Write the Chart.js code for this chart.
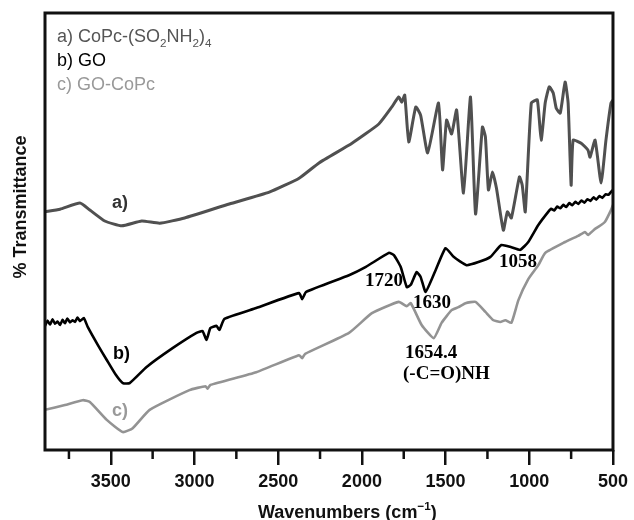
<!DOCTYPE html>
<html>
<head>
<meta charset="utf-8">
<title>FTIR spectra</title>
<script src="https://cdn.jsdelivr.net/npm/chart.js@4/dist/chart.umd.min.js"></script>
<style>
  html, body { margin: 0; padding: 0; background: #fff; }
  #wrap { width: 634px; height: 520px; position: relative; }
</style>
</head>
<body>
<div id="wrap"><canvas id="ftir"></canvas></div>
<script>
// wavenumber axis (cm-1), drawn high -> low
const xMajorTicks = [3500, 3000, 2500, 2000, 1500, 1000, 500];
const xMinorTicks = [3750, 3250, 2750, 2250, 1750, 1250, 750];

// a) CoPc-(SO2NH2)4
const coPcWave = [3893, 3803, 3684, 3625, 3536, 3434, 3315, 3208, 3059, 2792, 2553, 2375, 2256, 2059,
  1899, 1821, 1780, 1762, 1744, 1720, 1678, 1649, 1607, 1542, 1518, 1494, 1464, 1434, 1393, 1351,
  1321, 1280, 1262, 1244, 1220, 1196, 1155, 1131, 1107, 1059, 1042, 1024, 988, 952, 929, 905,
  881, 857, 839, 815, 786, 768, 750, 738, 690, 649, 637, 607, 571, 542, 512, 500];
const coPcT = [54.5, 55.1, 56.5, 54.9, 52.4, 51.3, 52.4, 51.9, 53.1, 56.3, 59.0, 62.2, 65.7, 70.2,
  74.6, 78.5, 80.8, 79.6, 81.2, 70.5, 78.5, 76.6, 68.0, 79.4, 64.1, 75.5, 72.3, 77.8, 58.8, 80.8,
  54.0, 73.9, 71.6, 59.5, 63.6, 59.9, 50.3, 54.5, 53.1, 62.5, 60.6, 54.5, 79.4, 80.1, 70.9, 79.4,
  83.1, 81.7, 78.2, 77.1, 84.2, 79.4, 60.6, 70.9, 70.2, 68.6, 67.0, 70.9, 61.1, 70.9, 79.4, 80.1];

// b) GO
const goWave = [3893, 3878, 3863, 3848, 3833, 3818, 3803, 3788, 3774, 3759, 3744, 3729, 3714, 3699,
  3684, 3661, 3637, 3577, 3524, 3470, 3428,
  3387, 3286, 3131, 2988, 2952, 2928, 2905, 2869, 2851, 2821, 2631, 2375, 2357, 2333, 2077, 1976,
  1839, 1809, 1768, 1732, 1708, 1673, 1649, 1619, 1559, 1500, 1452, 1375, 1304, 1232, 1167, 1107,
  1054, 1006, 946, 887, 869, 851, 833, 815, 797, 779, 761, 743, 725, 707, 689, 671, 653, 635, 617,
  599, 581, 563, 545, 527, 509, 500];
const goT = [28.4, 29.6, 28.7, 29.9, 28.9, 29.4, 28.6, 29.8, 29.0, 30.1, 29.2, 29.7, 29.3, 30.3,
  29.5, 30.2, 28.1, 24.0, 20.6, 17.2, 15.3,
  15.3, 19.0, 23.3, 26.8, 27.2, 25.2, 27.9, 28.4, 27.5, 30.0, 32.5, 35.9, 34.5, 36.2, 40.0, 41.9,
  45.1, 44.6, 41.9, 37.3, 37.8, 40.7, 39.6, 36.2, 41.2, 46.2, 44.2, 42.3, 43.0, 44.2, 46.9, 46.4,
  45.8, 47.6, 51.5, 54.5, 55.2, 54.8, 55.7, 55.3, 56.1, 55.6, 56.5, 56.0, 56.8, 56.3, 57.1, 56.6,
  57.4, 57.0, 57.8, 57.3, 58.1, 57.7, 58.5, 58.4, 59.2, 59.5];

// c) GO-CoPc
const goCoPcWave = [3893, 3774, 3667, 3625, 3524, 3428, 3369, 3268, 3030, 2934, 2922, 2905, 2631,
  2375, 2357, 2339, 2077, 1940, 1780, 1732, 1708, 1643, 1571, 1524, 1464, 1423, 1381, 1321, 1262,
  1214, 1173, 1143, 1107, 1065, 1006, 946, 905, 786, 708, 667, 649, 607, 571, 548, 512, 500];
const goCoPcT = [9.2, 10.3, 11.4, 11.0, 6.9, 4.1, 5.0, 9.2, 13.7, 14.6, 14.0, 14.9, 17.8,
  21.7, 21.0, 22.0, 26.8, 31.3, 33.9, 32.9, 33.6, 28.6, 25.6, 29.1, 32.0, 32.7, 33.6, 33.9, 31.6,
  29.7, 29.3, 29.7, 29.1, 34.3, 39.1, 42.3, 45.1, 47.6, 49.0, 49.9, 49.2, 50.6, 51.5, 52.2, 54.9, 56.1];

const toPoints = (xs, ys) => xs.map((x, i) => ({ x, y: ys[i] }));

// text run helper: pieces may be subscripted or superscripted
function drawRuns(ctx, runs, x, y, size, weight, family, color) {
  ctx.fillStyle = color;
  ctx.textBaseline = "alphabetic";
  ctx.textAlign = "left";
  let cx = x;
  runs.forEach((run) => {
    const s = run.sub || run.sup ? size * 0.65 : size;
    const dy = run.sub ? size * 0.28 : run.sup ? -size * 0.42 : 0;
    ctx.font = `${weight} ${s}px ${family}`;
    ctx.fillText(run.t, cx, y + dy);
    cx += ctx.measureText(run.t).width;
  });
  return cx - x;
}

const sans = "'Liberation Sans', Arial, sans-serif";
const serif = "'Liberation Serif', 'Times New Roman', serif";

const spectrumDecor = {
  id: "spectrumDecor",
  afterDraw(chart) {
    const { ctx, chartArea: area, scales } = chart;
    ctx.save();

    // frame
    ctx.strokeStyle = "#111";
    ctx.lineWidth = 3;
    ctx.strokeRect(area.left, area.top, area.right - area.left, area.bottom - area.top);

    // short minor ticks between labelled ones
    ctx.lineWidth = 2.5;
    xMinorTicks.forEach((v) => {
      const px = scales.x.getPixelForValue(v);
      ctx.beginPath();
      ctx.moveTo(px, area.bottom);
      ctx.lineTo(px, area.bottom + 9);
      ctx.stroke();
    });

    // series key, top left
    drawRuns(ctx, [{ t: "a) CoPc-(SO" }, { t: "2", sub: true }, { t: "NH" }, { t: "2", sub: true },
      { t: ")" }, { t: "4", sub: true }], 57, 42, 18, "normal", sans, "#555");
    drawRuns(ctx, [{ t: "b) GO" }], 57, 66, 18, "normal", sans, "#000");
    drawRuns(ctx, [{ t: "c) GO-CoPc" }], 57, 90, 18, "normal", sans, "#999");

    // curve tags
    drawRuns(ctx, [{ t: "a)" }], 112, 208, 18, "bold", sans, "#333");
    drawRuns(ctx, [{ t: "b)" }], 113, 359, 18, "bold", sans, "#000");
    drawRuns(ctx, [{ t: "c)" }], 112, 416, 18, "bold", sans, "#999");

    // band assignments
    drawRuns(ctx, [{ t: "1720" }], 365, 286, 19, "bold", serif, "#000");
    drawRuns(ctx, [{ t: "1630" }], 413, 308, 19, "bold", serif, "#000");
    drawRuns(ctx, [{ t: "1058" }], 499, 267, 19, "bold", serif, "#000");
    drawRuns(ctx, [{ t: "1654.4" }], 405, 358, 19, "bold", serif, "#000");
    drawRuns(ctx, [{ t: "(-C=O)NH" }], 403, 379, 19, "bold", serif, "#000");

    // axis titles
    drawRuns(ctx, [{ t: "Wavenumbers (cm" }, { t: "\u22121", sup: true }, { t: ")" }],
      258, 518, 18, "bold", sans, "#111");
    ctx.translate(26, 207);
    ctx.rotate(-Math.PI / 2);
    ctx.font = `bold 18px ${sans}`;
    const w = ctx.measureText("% Transmittance").width;
    drawRuns(ctx, [{ t: "% Transmittance" }], -w / 2, 0, 18, "bold", sans, "#111");

    ctx.restore();
  },
};

const lineStyle = { pointRadius: 0, tension: 0.15, fill: false };

new Chart(document.getElementById("ftir"), {
  type: "line",
  data: {
    datasets: [
      { label: "a", data: toPoints(coPcWave, coPcT), borderColor: "#505050", borderWidth: 3, ...lineStyle },
      { label: "b", data: toPoints(goWave, goT), borderColor: "#000", borderWidth: 2.6, ...lineStyle },
      { label: "c", data: toPoints(goCoPcWave, goCoPcT), borderColor: "#939393", borderWidth: 2.6, ...lineStyle },
    ],
  },
  options: {
    responsive: true,
    maintainAspectRatio: false,
    animation: false,
    layout: { padding: { left: 45, right: 19, top: 13, bottom: 0 } },
    plugins: { legend: { display: false }, tooltip: { enabled: false } },
    scales: {
      x: {
        type: "linear",
        reverse: true,
        min: 500,
        max: 3893,
        afterBuildTicks: (scale) => {
          scale.ticks = xMajorTicks.map((value) => ({ value }));
        },
        afterFit: (scale) => {
          scale.height = 70;
        },
        border: { display: false },
        grid: { drawOnChartArea: false, tickLength: 15, lineWidth: 2.5, color: "#111" },
        ticks: {
          color: "#111",
          padding: 6,
          maxRotation: 0,
          font: { family: sans, size: 18, weight: "bold" },
          callback: (value) => String(value),
        },
      },
      y: { display: false, min: 0, max: 100 },
    },
  },
  plugins: [spectrumDecor],
});
</script>
</body>
</html>
